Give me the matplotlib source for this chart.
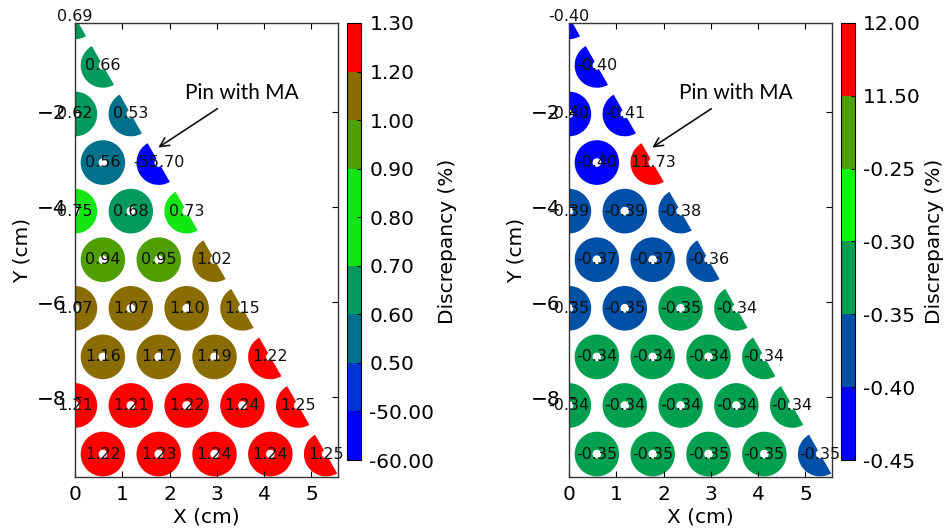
"""Pin-wise discrepancy maps for a 1/12 hexagonal assembly sector (two cases)."""
import matplotlib
matplotlib.use("Agg")
import matplotlib.pyplot as plt
import numpy as np
from matplotlib.collections import PatchCollection
from matplotlib.colors import BoundaryNorm, ListedColormap
from matplotlib.patches import Wedge

# ---------------------------------------------------------------------------
# Data (rows from the top of the sector; last pin of each row sits on the cut)
# ---------------------------------------------------------------------------
left_rows = [
    [0.69],
    [0.66],
    [0.62, 0.53],
    [0.56, -55.70],
    [0.75, 0.68, 0.73],
    [0.94, 0.95, 1.02],
    [1.07, 1.07, 1.10, 1.15],
    [1.16, 1.17, 1.19, 1.22],
    [1.21, 1.21, 1.22, 1.24, 1.25],
    [1.22, 1.23, 1.24, 1.24, 1.25],
]
right_rows = [
    [-0.402],
    [-0.403],
    [-0.401, -0.41],
    [-0.401, 11.73],
    [-0.39, -0.39, -0.38],
    [-0.37, -0.37, -0.36],
    [-0.351, -0.351, -0.349, -0.34],
    [-0.34, -0.34, -0.34, -0.34],
    [-0.34, -0.34, -0.34, -0.34, -0.34],
    [-0.348, -0.348, -0.348, -0.348, -0.352],
]

left_levels = [-60.0, -50.0, 0.5, 0.6, 0.7, 0.8, 0.9, 1.0, 1.2, 1.3]
left_colors = ["#0000ff", "#0034d2", "#00718d", "#009a5e", "#14e614",
               "#14e614", "#4f9f00", "#8a6c00", "#ff0000"]
right_levels = [-0.45, -0.40, -0.35, -0.30, -0.25, 11.50, 12.00]
right_colors = ["#0000ff", "#0050a8", "#00a050", "#00ff00", "#4f9f00", "#ff0000"]

PITCH = 1.18
R_OUT = 0.47
R_IN = 0.09

plt.rcParams["font.family"] = "DejaVu Sans"
plt.rcParams["xtick.direction"] = "in"
plt.rcParams["ytick.direction"] = "in"
plt.rcParams["xtick.top"] = True
plt.rcParams["ytick.right"] = True


def draw_sector(ax, cax, rows, levels, colors):
    dy = PITCH * np.sqrt(3) / 2
    patches, vals, centers = [], [], []
    for i, row in enumerate(rows):
        for j, v in enumerate(row):
            x = (i % 2) * PITCH / 2 + j * PITCH
            y = -i * dy
            if j == len(row) - 1:
                w = Wedge((x, y), R_OUT, 120, 300, width=R_OUT - R_IN)
            else:
                w = Wedge((x, y), R_OUT, 0, 360, width=R_OUT - R_IN)
            patches.append(w)
            vals.append(v)
            centers.append((x, y))

    cmap = ListedColormap(colors)
    norm = BoundaryNorm(levels, cmap.N)
    pc = PatchCollection(patches, cmap=cmap, norm=norm, edgecolor="none")
    pc.set_array(np.array(vals))
    ax.add_collection(pc)

    for (x, y), v in zip(centers, vals):
        ax.text(x, y, f"{v:.2f}", ha="center", va="center", fontsize=11.5,
                color="#111111", clip_on=False)

    ax.set_xlim(0, 5.56)
    ax.set_ylim(-9.68, -0.13)
    ax.set_xticks([0, 1, 2, 3, 4, 5])
    ax.set_yticks([-2, -4, -6, -8])
    ax.tick_params(labelsize=14.5, length=4, width=0.8, pad=6)
    ax.set_xlabel("X (cm)", fontsize=14.5, labelpad=2)
    ax.set_ylabel("Y (cm)", fontsize=14.5, labelpad=4)
    for s in ax.spines.values():
        s.set_color("#333333")
        s.set_linewidth(1.0)

    ax.annotate("Pin with MA", xy=(1.76, -2.75), xytext=(3.52, -1.6),
                ha="center", va="center", fontsize=15, family="Lato",
                arrowprops=dict(arrowstyle="->", color="#111111", lw=1.2,
                                mutation_scale=16, shrinkA=4, shrinkB=0))

    cb = plt.colorbar(pc, cax=cax, ticks=levels, format="%.2f")
    cb.ax.tick_params(labelsize=14.5, length=3, direction="in", pad=6)
    cb.outline.set_linewidth(0.8)
    cb.set_label("Discrepancy (%)", fontsize=14.5, labelpad=3)


fig = plt.figure(figsize=(9.47, 5.31), dpi=100)
ax1 = fig.add_axes([0.0792, 0.1017, 0.2777, 0.855])
cax1 = fig.add_axes([0.3664, 0.1337, 0.0148, 0.823])
ax2 = fig.add_axes([0.6008, 0.1017, 0.2777, 0.855])
cax2 = fig.add_axes([0.8880, 0.1337, 0.0148, 0.823])

draw_sector(ax1, cax1, left_rows, left_levels, left_colors)
draw_sector(ax2, cax2, right_rows, right_levels, right_colors)

fig.savefig("out.png", dpi=100)
